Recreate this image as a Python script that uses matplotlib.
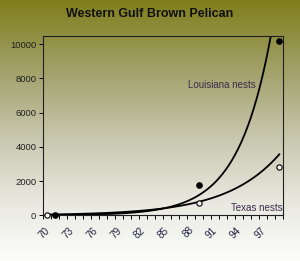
import numpy as np
import matplotlib
matplotlib.use("Agg")
import matplotlib.pyplot as plt
import matplotlib.transforms as mtransforms
from matplotlib.colors import LinearSegmentedColormap

plt.rcParams["font.family"] = ["Liberation Sans", "DejaVu Sans"]

# observed nest counts
la_years = [71, 89, 99]
la_nests = [10, 1800, 10200]
tx_years = [70, 89, 99]
tx_nests = [20, 700, 2800]

# exponential trendlines: y = a * exp(b * (year - 70))
la_fit = (11.8, 0.243)
tx_fit = (46.0, 0.150)

xlabels = ["70", "73", "76", "79", "82", "85", "88", "91", "94", "97"]
yticks = [0, 2000, 4000, 6000, 8000, 10000]

fig = plt.figure(figsize=(3.0, 2.61), dpi=100)

# background gradient, olive to white
bg = fig.add_axes([0, 0, 1, 1], zorder=-1)
cmap = LinearSegmentedColormap.from_list(
    "olive",
    [(0.0, "#7f7e1c"), (0.3, "#a6a572"), (0.55, "#cbcbb4"),
     (0.8, "#ebebe4"), (1.0, "#fdfdfb")],
)
bg.imshow(np.linspace(0, 1, 256).reshape(-1, 1), aspect="auto", cmap=cmap,
          extent=[0, 1, 0, 1])
bg.axis("off")

ax = fig.add_axes([0.1443, 0.175, 0.8, 0.687])
ax.set_facecolor("none")

xs = np.linspace(70, 99, 300)
ax.plot(xs, la_fit[0] * np.exp(la_fit[1] * (xs - 70)), color="black", lw=1.3)
ax.plot(xs, tx_fit[0] * np.exp(tx_fit[1] * (xs - 70)), color="black", lw=1.3)

ax.plot(la_years, la_nests, "o", color="black", ms=3.8, clip_on=False, zorder=5)
ax.plot(tx_years, tx_nests, "o", mfc="white", mec="black", mew=0.8, ms=3.8,
        clip_on=False, zorder=5)

ax.text(91.8, 7600, "Louisiana nests", ha="center", va="center",
        fontsize=7, color="#3c2a48")
ax.text(99.4, 450, "Texas nests", ha="right", va="center",
        fontsize=7, color="#3c2a48")

ax.set_xlim(69.5, 99.5)
ax.set_ylim(0, 10480)

ax.set_xticks(np.arange(70, 98, 3))
ax.set_xticklabels(xlabels, rotation=45, ha="right", va="top",
                   rotation_mode="anchor")
ax.set_xticks(np.arange(69.5, 100, 1), minor=True)
ax.tick_params(axis="x", which="major", length=0, pad=7, labelsize=7.2,
               labelcolor="#202040")
ax.tick_params(axis="x", which="minor", length=3, width=0.7, direction="out")

# nudge the rotated labels a little to the left
shift = mtransforms.ScaledTranslation(-3 / 100, 0, fig.dpi_scale_trans)
for lab in ax.get_xticklabels():
    lab.set_transform(lab.get_transform() + shift)

ax.set_yticks(yticks)
ax.set_yticklabels([str(v) for v in yticks])
ax.tick_params(axis="y", length=3, width=0.7, pad=2, labelsize=6.8,
               labelcolor="#202020")

for s in ax.spines.values():
    s.set_linewidth(0.8)
    s.set_color("#202020")

fig.text(0.5, 0.945, "Western Gulf Brown Pelican", ha="center", va="center",
         fontsize=9, fontweight="bold", color="#101010")

fig.savefig("out.png", dpi=100)
